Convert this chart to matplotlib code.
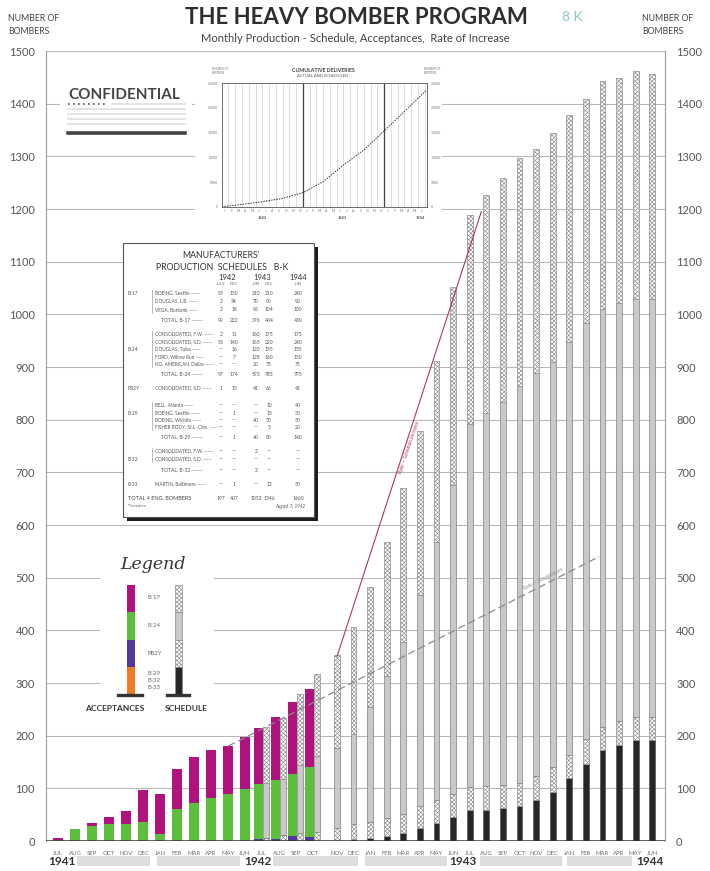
import numpy as np
import matplotlib
matplotlib.use("Agg")
from matplotlib import pyplot as plt
from matplotlib.patches import Rectangle

plt.rcParams['font.family'] = ['Lato', 'DejaVu Sans']
plt.rcParams['hatch.linewidth'] = 0.45

# month labels, JUL 1941 .. JUN 1944
months = ["JUL", "AUG", "SEP", "OCT", "NOV", "DEC", "JAN", "FEB", "MAR", "APR", "MAY", "JUN",
          "JUL", "AUG", "SEP", "OCT", "NOV", "DEC", "JAN", "FEB", "MAR", "APR", "MAY", "JUN",
          "JUL", "AUG", "SEP", "OCT", "NOV", "DEC", "JAN", "FEB", "MAR", "APR", "MAY", "JUN"]
years = ["1941", "1942", "1943", "1944"]

# acceptances, JUL 1941 .. OCT 1942 (bombers per month)
acc_b29 = [0, 0, 0, 0, 0, 0, 0, 0, 0, 0, 0, 0, 0, 0, 0, 0]
acc_pb2y = [0, 0, 0, 0, 0, 0, 0, 0, 0, 0, 0, 0, 4, 3, 9, 7]
acc_b24 = [2, 22, 29, 32, 32, 36, 13, 60, 72, 82, 90, 99, 104, 112, 118, 133]
acc_b17 = [3, 0, 6, 13, 25, 61, 76, 76, 87, 91, 90, 99, 107, 120, 137, 148]

# schedule, JUL 1942 .. JUN 1944
sched_b29 = [0, 0, 0, 0, 0, 3, 6, 10, 15, 24, 35, 45,
             58, 59, 62, 67, 78, 93, 120, 147, 173, 182, 192, 192]
sched_pb2y = [5, 11, 15, 18, 24, 29, 31, 33, 37, 42, 43, 45,
              44, 45, 44, 44, 46, 48, 44, 46, 44, 46, 44, 44]
sched_b24 = [105, 107, 129, 143, 152, 171, 217, 271, 326, 401, 490, 586,
             689, 708, 727, 752, 764, 768, 784, 790, 794, 793, 793, 793]
sched_b17 = [106, 116, 136, 157, 177, 203, 228, 254, 292, 312, 343, 376,
             397, 414, 425, 433, 426, 436, 431, 426, 432, 427, 433, 428]

# rate of increase lines (month index from JUL 1941, bombers)
sched_rate_month = [16, 24.7]
sched_rate_value = [350, 1195]
acc_rate_month = [10, 31.8]
acc_rate_value = [180, 540]

# inset: cumulative deliveries (months from JAN 1942)
cum_month = [0, 3, 6, 9, 12, 15, 18, 21, 24, 27, 30.3]
cum_total = [0, 470, 1010, 1690, 2840, 5070, 8450, 11490, 15340, 19260, 23650]
inset_months = ["J", "F", "M", "A", "M", "J", "J", "A", "S", "O", "N", "D",
                "J", "F", "M", "A", "M", "J", "J", "A", "S", "O", "N", "D",
                "J", "F", "M", "A", "M", "J"]

# manufacturers' production schedules table
tab_group = ["B-17", "", "", "", "", "", "B-24", "", "", "", "PB2Y",
             "", "B-29", "", "", "", "", "B-32", "", "B-33", ""]
tab_name = ["BOEING, Seattle", "DOUGLAS, L.B.", "VEGA, Burbank", "TOTAL, B-17",
            "CONSOLIDATED, F.W.", "CONSOLIDATED, S.D.", "DOUGLAS, Tulsa", "FORD, Willow Run",
            "NO. AMERICAN, Dallas", "TOTAL, B-24", "CONSOLIDATED, S.D.",
            "BELL, Atlanta", "BOEING, Seattle", "BOEING, Wichita", "FISHER BODY, St.L.-Clev.",
            "TOTAL, B-29", "CONSOLIDATED, F.W.", "CONSOLIDATED, S.D.", "TOTAL, B-32",
            "MARTIN, Baltimore", "TOTAL 4 ENG. BOMBERS"]
tab_vals = [["95", "150", "210", "210", "240"],
            ["2", "54", "70", "90", "90"],
            ["2", "18", "96", "104", "100"],
            ["99", "222", "376", "404", "430"],
            ["2", "11", "160", "175", "175"],
            ["95", "140", "165", "220", "240"],
            ["—", "16", "120", "155", "155"],
            ["—", "7", "128", "160", "150"],
            ["—", "—", "20", "75", "75"],
            ["97", "174", "593", "785", "795"],
            ["1", "15", "41", "66", "41"],
            ["—", "—", "—", "10", "40"],
            ["—", "1", "—", "15", "30"],
            ["—", "—", "40", "50", "50"],
            ["—", "—", "—", "5", "20"],
            ["—", "1", "40", "80", "140"],
            ["—", "—", "2", "—", "—"],
            ["—", "—", "—", "—", "—"],
            ["—", "—", "2", "—", "—"],
            ["—", "1", "—", "12", "50"],
            ["197", "407", "1053", "1346", "1460"]]
tab_years = ["1942", "1943", "1944"]
tab_cols = ["JULY", "DEC", "JUN", "DEC", "JUN"]

# colours
c_b17 = '#b0127e'
c_b24 = '#5cbf3c'
c_pb2y = '#55399a'
c_b29 = '#f07b22'
c_sched = '#c9c9c9'
c_black = '#262626'
c_hatch = '#8c8c8c'
hatch_pat = 'xxxxxxxx'


def month_pos(i):
    # a wider gap sits between OCT 1942 and NOV 1942
    i = np.asarray(i, dtype=float)
    return np.where(i < 15.5, i, 16.41 + (i - 16) * 0.976)


fig = plt.figure(figsize=(7.1, 8.71), dpi=100)
fig.patch.set_facecolor('white')

ax = fig.add_axes([46 / 710, 30 / 871, 619 / 710, 790 / 871])
ax.set_zorder(1)
ax.set_xlim(-0.706, 35.706)
ax.set_ylim(0, 1500)

for v in range(100, 1501, 100):
    ax.axhline(v, color='#b8b8b8', lw=0.8, zorder=0)
ax.axhline(0, color='#333333', lw=1.8, zorder=3)

# acceptance bars
acc_idx = np.arange(len(acc_b17))
acc_x = month_pos(acc_idx) + np.where(acc_idx >= 12, -0.22, 0.0)
bottom = np.zeros(len(acc_idx))
for vals, col in [(acc_b29, c_b29), (acc_pb2y, c_pb2y), (acc_b24, c_b24), (acc_b17, c_b17)]:
    ax.bar(acc_x, vals, width=0.56, bottom=bottom, color=col, lw=0, zorder=2)
    bottom += np.array(vals)

# schedule bars
sched_idx = np.arange(12, 12 + len(sched_b17))
sched_x = month_pos(sched_idx) + np.where(sched_idx <= 15, 0.22, 0.0)
bottom = np.zeros(len(sched_idx))
ax.bar(sched_x, sched_b29, width=0.34, bottom=bottom, color=c_black,
       edgecolor='#555555', lw=0.5, zorder=2)
bottom += np.array(sched_b29)
ax.bar(sched_x, sched_pb2y, width=0.34, bottom=bottom, color='white',
       edgecolor=c_hatch, hatch=hatch_pat, lw=0.5, zorder=2)
bottom += np.array(sched_pb2y)
ax.bar(sched_x, sched_b24, width=0.34, bottom=bottom, color=c_sched,
       edgecolor='#808080', lw=0.5, zorder=2)
bottom += np.array(sched_b24)
ax.bar(sched_x, sched_b17, width=0.34, bottom=bottom, color='white',
       edgecolor=c_hatch, hatch=hatch_pat, lw=0.5, zorder=2)

# rate lines
sx = month_pos(sched_rate_month)
ax.plot(sx, sched_rate_value, color='#b0385a', lw=0.8, zorder=4)
ax.text(sx[0] + 0.47 * (sx[1] - sx[0]) + 0.25,
        sched_rate_value[0] + 0.47 * (sched_rate_value[1] - sched_rate_value[0]),
        "Rate — Schedule increase", rotation=71.5, color='#b0385a', fontsize=3.5,
        ha='center', va='center', zorder=4)
ax_x = month_pos(acc_rate_month)
ax.plot(ax_x, acc_rate_value, color='#8a8a8a', lw=0.9, ls=(0, (6, 3)), zorder=4)
ax.text(ax_x[0] + 0.85 * (ax_x[1] - ax_x[0]),
        acc_rate_value[0] + 0.85 * (acc_rate_value[1] - acc_rate_value[0]) + 12,
        "Rate — Acceptances", rotation=27, color='#8a8a8a', fontsize=3.5,
        ha='center', va='center', zorder=4)

# axes styling
for side in ['top', 'bottom']:
    ax.spines[side].set_visible(False)
for side in ['left', 'right']:
    ax.spines[side].set_color('#9a9a9a')
    ax.spines[side].set_linewidth(0.8)
ax.set_yticks(range(0, 1501, 100))
ax.tick_params(axis='y', length=0, labelsize=8, labelcolor='#555555', pad=8,
               labelright=True)
ax.tick_params(axis='y', which='both', right=False)
ax.set_xticks(month_pos(np.arange(len(months))))
ax.set_xticklabels(months, fontsize=4.3, color='#707070')
ax.tick_params(axis='x', length=0, pad=7)

# overlay for annotations, in figure pixels
deco = fig.add_axes([0, 0, 1, 1])
deco.set_zorder(3)
deco.set_xlim(0, 710)
deco.set_ylim(871, 0)
deco.axis('off')
deco.patch.set_alpha(0)

# white areas behind the boxes that break the grid lines
for (x0, y0, x1, y1) in [(60, 78, 192, 142), (195, 60, 442, 224), (100, 545, 214, 716)]:
    deco.add_patch(Rectangle((x0, y0), x1 - x0, y1 - y0, color='white', lw=0, zorder=1))

deco.text(8, 25, "NUMBER OF\nBOMBERS", fontsize=6.3, color='#444444', va='center',
          linespacing=1.5)
deco.text(642, 25, "NUMBER OF\nBOMBERS", fontsize=6.3, color='#444444', va='center',
          linespacing=1.5)
deco.text(356, 17, "THE HEAVY BOMBER PROGRAM", fontsize=16, fontweight='bold',
          color='#2e2e2e', ha='center', va='center')
deco.text(572, 17, "8 K", fontsize=10, color='#8fc8c8', ha='center', va='center')
deco.text(355, 38, "Monthly Production - Schedule, Acceptances,  Rate of Increase",
          fontsize=8, color='#404040', ha='center', va='center')

# confidential note
deco.text(68, 95, "CONFIDENTIAL", fontsize=11, fontweight='bold', color='#454545',
          va='center', zorder=2)
deco.plot([68, 108], [104, 104], color='#555555', lw=1.2, ls=(0, (1, 2)), zorder=2)
for yy in [104, 109, 114, 119, 124]:
    x0 = 112 if yy == 104 else 68
    deco.plot([x0, 185], [yy, yy], color='#e2e2e2', lw=1.3, zorder=2)
deco.plot([68, 185], [133, 133], color='#444444', lw=2.6, zorder=2)

# legend
deco.text(153, 564, "Legend", fontsize=12.5, family='DejaVu Serif', style='italic',
          color='#333333', ha='center', va='center', zorder=2)
leg_edges = [585, 611.5, 639.5, 667, 694.5]
for k, col in enumerate([c_b17, c_b24, c_pb2y, c_b29]):
    deco.add_patch(Rectangle((126.5, leg_edges[k]), 8.5, leg_edges[k + 1] - leg_edges[k],
                             facecolor=col, lw=0, zorder=2))
for k, (fc, hatch) in enumerate([('white', hatch_pat), (c_sched, None),
                                  ('white', hatch_pat), (c_black, None)]):
    deco.add_patch(Rectangle((175, leg_edges[k]), 6.5, leg_edges[k + 1] - leg_edges[k],
                             facecolor=fc, edgecolor=c_hatch, hatch=hatch, lw=0.5,
                             zorder=2))
deco.plot([118, 142], [695, 695], color='#333333', lw=2.4, zorder=2)
deco.plot([167, 189], [695, 695], color='#333333', lw=2.4, zorder=2)
for txt, yy in [("B-17", 597), ("B-24", 625), ("PB2Y", 653), ("B-29", 673),
                ("B-32", 680), ("B-33", 687)]:
    deco.text(148, yy, txt, fontsize=4.3, color='#666666', va='center', zorder=2)
deco.text(115, 708, "ACCEPTANCES", fontsize=6, fontweight='bold', color='#333333',
          ha='center', va='center', zorder=2)
deco.text(186, 708, "SCHEDULE", fontsize=6, fontweight='bold', color='#333333',
          ha='center', va='center', zorder=2)

# table
deco.add_patch(Rectangle((127, 247), 191, 274, facecolor='#1e1e1e', lw=0, zorder=1))
deco.add_patch(Rectangle((123, 243), 191, 274, facecolor='white', edgecolor='#555555',
                         lw=0.8, zorder=1))
deco.text(221, 255, "MANUFACTURERS'", fontsize=6.3, color='#333333', ha='center',
          va='center', zorder=2)
deco.text(222, 267, "PRODUCTION  SCHEDULES   B-K", fontsize=6.3, color='#333333',
          ha='center', va='center', zorder=2)
col_x = [221, 234, 256, 269, 298]
for txt, xx in zip(tab_years, [227.5, 262.5, 298]):
    deco.text(xx, 277, txt, fontsize=5.5, color='#333333', ha='center', va='center',
              zorder=2)
for txt, xx in zip(tab_cols, col_x):
    deco.text(xx, 283.5, txt, fontsize=3, color='#666666', ha='center', va='center',
              zorder=2)
row_y = [293, 301, 309.5, 320, 334, 342, 349, 357, 364, 374, 388,
         405, 413, 420, 427, 437, 451, 459, 470, 484, 498]
for g, name, vals, yy in zip(tab_group, tab_name, tab_vals, row_y):
    if g:
        deco.text(128, yy, g, fontsize=3.5, color='#555555', va='center', zorder=2)
    if name.startswith("TOTAL 4"):
        deco.text(128, yy, name, fontsize=4, color='#444444', va='center', zorder=2)
    elif name.startswith("TOTAL"):
        deco.text(161, yy, name + " ------", fontsize=3.6, color='#555555', va='center',
                  zorder=2)
    else:
        deco.text(155, yy, name + " -----", fontsize=3.4, color='#555555', va='center',
                  zorder=2)
    for v, xx in zip(vals, col_x):
        deco.text(xx, yy, v, fontsize=3.6, color='#555555', ha='center', va='center',
                  zorder=2)
for y0, y1 in [(290, 313), (331, 367), (402, 430), (448, 462)]:
    deco.plot([152, 152], [y0, y1], color='#888888', lw=0.4, zorder=2)
deco.text(128, 506, "*Tentative", fontsize=3, color='#666666', va='center', zorder=2)
deco.text(305, 506, "August 7, 1942", fontsize=3.3, style='italic', color='#555555',
          ha='right', va='center', zorder=2)

# inset titles
deco.text(323, 70, "CUMULATIVE DELIVERIES", fontsize=3.8, fontweight='bold',
          color='#444444', ha='center', va='center', zorder=2)
deco.text(323, 76, "ACTUAL AND SCHEDULED", fontsize=3, color='#555555', ha='center',
          va='center', zorder=2)
deco.text(212, 71, "NUMBER OF\nBOMBERS", fontsize=2, color='#777777', va='center',
          zorder=2)
deco.text(424, 71, "NUMBER OF\nBOMBERS", fontsize=2, color='#777777', va='center',
          zorder=2)
for txt, xx in zip(years[1:], [262, 342, 420]):
    deco.text(xx, 218, txt, fontsize=2.8, fontweight='bold', color='#555555',
              ha='center', va='center', zorder=2)

# year bar at the bottom
for x0, x1 in [(77, 150), (157, 240), (273, 358), (365, 447), (480, 562), (567, 632)]:
    deco.add_patch(Rectangle((x0, 855.5), x1 - x0, 10, facecolor='#dddddd', lw=0,
                             zorder=1))
for txt, xx in zip(years, [62, 258, 463, 650]):
    deco.text(xx, 861, txt, fontsize=8.5, fontweight='bold', color='#333333',
              ha='center', va='center', zorder=2)

# inset chart
ins = fig.add_axes([221.7 / 710, (871 - 206.7) / 871, 205 / 710, 123.4 / 871])
ins.set_zorder(4)
ins.set_xlim(0, 30.3)
ins.set_ylim(0, 25000)
ins.vlines(np.arange(1, 31), 0, 25000, color='#c4c4c4', lw=0.4)
ins.vlines([12, 24], 0, 25000, color='#444444', lw=0.9)
ins.plot(cum_month, cum_total, color='#333333', lw=0.7, ls=(0, (1.5, 1.2)))
ins.set_yticks(range(0, 25001, 5000))
ins.set_yticklabels([str(v) for v in range(0, 25001, 5000)])
ins.tick_params(axis='y', length=0, labelsize=2.5, labelcolor='#777777', pad=3,
                labelright=True)
ins.set_xticks(np.arange(len(inset_months)) + 0.5)
ins.set_xticklabels(inset_months)
ins.tick_params(axis='x', length=0, labelsize=2.5, labelcolor='#777777', pad=2)
for s in ins.spines.values():
    s.set_color('#555555')
    s.set_linewidth(0.6)

fig.savefig("out.png", dpi=100, facecolor='white')
